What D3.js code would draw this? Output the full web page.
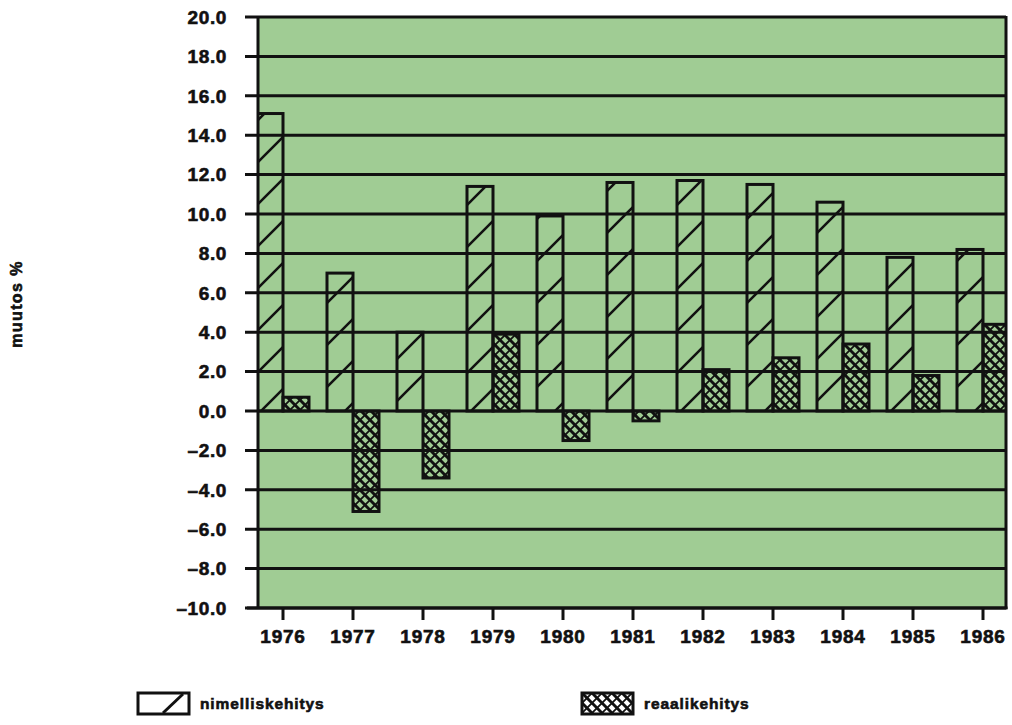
<!DOCTYPE html>
<html>
<head>
<meta charset="utf-8">
<script src="https://cdn.jsdelivr.net/npm/d3@7"></script>
<style>
  html, body { margin: 0; padding: 0; background: #fff; }
  svg { display: block; }
  text { font-family: "Liberation Sans", Arial, sans-serif; font-weight: bold; fill: #111; stroke: #111; stroke-width: 0.6px; }
</style>
</head>
<body>
<svg id="chart" width="1012" height="725"></svg>
<script>
const years = ["1976","1977","1978","1979","1980","1981","1982","1983","1984","1985","1986"];
const nimellis = [15.1, 7.0, 4.0, 11.4, 9.9, 11.6, 11.7, 11.5, 10.6, 7.8, 8.2];
const reaali = [0.7, -5.1, -3.4, 3.9, -1.5, -0.5, 2.1, 2.7, 3.4, 1.8, 4.4];
const yTicks = [20, 18, 16, 14, 12, 10, 8, 6, 4, 2, 0, -2, -4, -6, -8, -10];
const seriesKeys = ["nimellis", "reaali"];
const legendLabels = ["nimelliskehitys", "reaalikehitys"];
const yTitle = "muutos %";

const green = "#a0cc94";
const ink = "#111";
const svg = d3.select("#chart");

const plotL = 258, plotR = 1006, plotT = 17, plotB = 608;

const y = d3.scaleLinear().domain([-10, 20]).range([plotB, plotT]);
const x = d3.scaleBand().domain(years).range([248, 1018]).paddingInner(0).paddingOuter(0);
const xs = d3.scaleBand().domain(seriesKeys).range([0, x.bandwidth()]).paddingInner(0).paddingOuter(0.346);

const defs = svg.append("defs");
// single diagonal hatch
const p1 = defs.append("pattern").attr("id", "hatch").attr("patternUnits", "userSpaceOnUse")
  .attr("width", 42).attr("height", 42);
p1.append("path").attr("d", "M0,42 L42,0 M-10,10 L10,-10 M32,52 L52,32")
  .attr("stroke", ink).attr("stroke-width", 2.6);
// cross hatch
function cross(id, bg) {
  const p = defs.append("pattern").attr("id", id).attr("patternUnits", "userSpaceOnUse")
    .attr("width", 10).attr("height", 10);
  if (bg) p.append("rect").attr("width", 10).attr("height", 10).attr("fill", bg);
  p.append("path").attr("d", "M0,0 L10,10 M-5,5 L5,15 M5,-5 L15,5")
    .attr("stroke", ink).attr("stroke-width", 2.9);
  p.append("path").attr("d", "M0,10 L10,0 M-5,5 L5,-5 M5,15 L15,5")
    .attr("stroke", ink).attr("stroke-width", 1.8);
}
cross("cross", null);
cross("crossW", "#fff");

defs.append("clipPath").attr("id", "plotClip").append("rect")
  .attr("x", plotL).attr("y", plotT - 2).attr("width", plotR - plotL).attr("height", plotB - plotT + 4);

// background
svg.append("rect").attr("x", plotL).attr("y", plotT).attr("width", plotR - plotL).attr("height", plotB - plotT)
  .attr("fill", green);

const rows = years.map((yr, i) => ({ year: yr, nimellis: nimellis[i], reaali: reaali[i] }));
const bars = [];
rows.forEach(r => seriesKeys.forEach(k => bars.push({ year: r.year, key: k, v: r[k] })));

const barG = svg.append("g").attr("clip-path", "url(#plotClip)");
barG.selectAll("rect.fill").data(bars).join("rect")
  .attr("x", d => x(d.year) + xs(d.key))
  .attr("width", xs.bandwidth())
  .attr("y", d => y(Math.max(0, d.v)))
  .attr("height", d => Math.abs(y(d.v) - y(0)))
  .attr("fill", d => d.key === "nimellis" ? "url(#hatch)" : "url(#cross)");

// gridlines
svg.append("g").selectAll("line").data(yTicks).join("line")
  .attr("x1", 245).attr("x2", plotR)
  .attr("y1", d => y(d)).attr("y2", d => y(d))
  .attr("stroke", ink).attr("stroke-width", 3);

// bar outlines
barG.selectAll("rect.out").data(bars).join("rect")
  .attr("x", d => x(d.year) + xs(d.key))
  .attr("width", xs.bandwidth())
  .attr("y", d => y(Math.max(0, d.v)))
  .attr("height", d => Math.abs(y(d.v) - y(0)))
  .attr("fill", "none").attr("stroke", ink).attr("stroke-width", 3);

// axes lines
svg.append("line").attr("x1", plotL).attr("x2", plotL).attr("y1", plotT - 1).attr("y2", plotB + 1)
  .attr("stroke", ink).attr("stroke-width", 3);
svg.append("line").attr("x1", plotR).attr("x2", plotR).attr("y1", plotT - 1).attr("y2", plotB + 1)
  .attr("stroke", ink).attr("stroke-width", 3);
svg.append("line").attr("x1", 247).attr("x2", plotR + 1.5).attr("y1", plotB).attr("y2", plotB)
  .attr("stroke", ink).attr("stroke-width", 3);

// y labels
const fmt = d => (d < 0 ? "\u2013" : "") + Math.abs(d).toFixed(1);
svg.append("g").selectAll("text").data(yTicks).join("text")
  .attr("x", 227).attr("y", d => y(d)).attr("dy", "0.36em")
  .attr("text-anchor", "end").attr("font-size", 19).attr("letter-spacing", 0.6)
  .text(fmt);

// x ticks + labels
const xAxis = d3.axisBottom(x).tickSize(12).tickPadding(10);
const gx = svg.append("g").attr("transform", `translate(0,${plotB})`).call(xAxis);
gx.select(".domain").remove();
gx.selectAll(".tick line").attr("stroke", ink).attr("stroke-width", 3);
gx.selectAll(".tick text").attr("font-size", 19).attr("letter-spacing", 0.8)
  .attr("font-family", "Liberation Sans, Arial, sans-serif").attr("font-weight", "bold")
  .attr("fill", ink).attr("stroke", ink).attr("stroke-width", 0.6);

// y title
svg.append("text").attr("transform", "translate(22,304) rotate(-90)")
  .attr("text-anchor", "middle").attr("font-size", 16).attr("letter-spacing", 1.4).text(yTitle);

// legend
const legX = [138, 582];
const lg = svg.append("g");
legendLabels.forEach((lab, i) => {
  const g = lg.append("g").attr("transform", `translate(${legX[i]},693)`);
  g.append("rect").attr("width", 51).attr("height", 21)
    .attr("fill", i === 0 ? "#fff" : "url(#crossW)").attr("stroke", ink).attr("stroke-width", 3);
  if (i === 0) g.append("line").attr("x1", 25).attr("y1", 20).attr("x2", 45).attr("y2", 1)
    .attr("stroke", ink).attr("stroke-width", 3);
  g.append("text").attr("x", 62).attr("y", 16).attr("font-size", 15.5).attr("letter-spacing", 0.9).text(lab);
});
</script>
</body>
</html>
